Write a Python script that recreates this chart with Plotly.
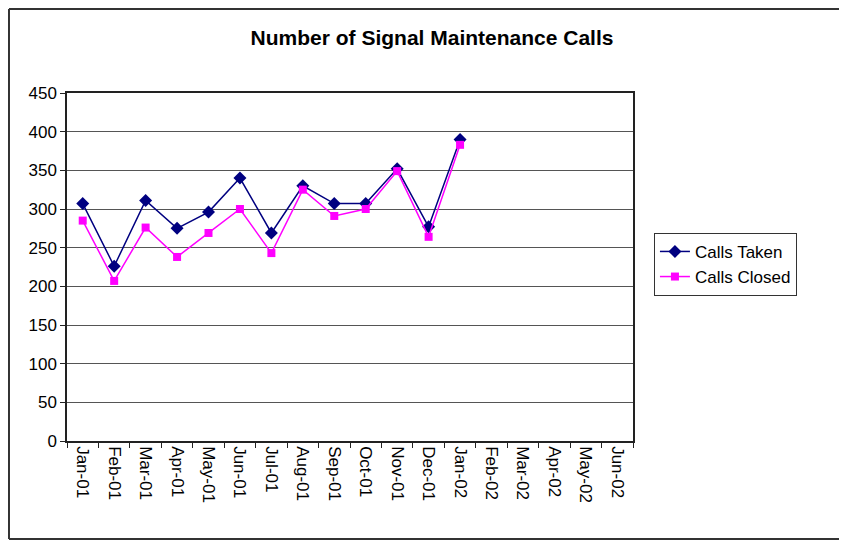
import plotly.graph_objects as go

months = ['Jan-01', 'Feb-01', 'Mar-01', 'Apr-01', 'May-01', 'Jun-01', 'Jul-01', 'Aug-01',
          'Sep-01', 'Oct-01', 'Nov-01', 'Dec-01', 'Jan-02', 'Feb-02', 'Mar-02', 'Apr-02',
          'May-02', 'Jun-02']
calls_taken = [307, 226, 311, 275, 296, 340, 269, 330, 307, 307, 352, 277, 390]
calls_closed = [285, 207, 276, 238, 269, 300, 243, 325, 291, 300, 349, 264, 383]

fig = go.Figure()
fig.add_trace(go.Scatter(x=months[:len(calls_taken)], y=calls_taken, name='Calls Taken',
                         mode='lines+markers',
                         line=dict(color='#000080', width=1.5),
                         marker=dict(symbol='diamond', size=10, color='#000080')))
fig.add_trace(go.Scatter(x=months[:len(calls_closed)], y=calls_closed, name='Calls Closed',
                         mode='lines+markers',
                         line=dict(color='#FF00FF', width=1.5),
                         marker=dict(symbol='square', size=8, color='#FF00FF')))

# outer chart border: left, top and bottom only (right edge runs off the page)
border = dict(color='#333333', width=2)
bx0, bx1, by0, by1 = -0.1025, 1.7, -0.2816, 1.2414
fig.add_shape(type='line', xref='paper', yref='paper', x0=bx0, x1=bx0, y0=by0, y1=by1, line=border)
fig.add_shape(type='line', xref='paper', yref='paper', x0=bx0, x1=bx1, y0=by1, y1=by1, line=border)
fig.add_shape(type='line', xref='paper', yref='paper', x0=bx0, x1=bx1, y0=by0, y1=by0, line=border)

fig.update_layout(
    width=847, height=540,
    margin=dict(l=59, r=222, t=85, b=107),
    paper_bgcolor='white', plot_bgcolor='white',
    font=dict(family='Liberation Sans, Arial, sans-serif', size=17, color='black'),
    title=dict(text='<b>Number of Signal Maintenance Calls</b>', x=(432 - 67) / 566,
               xref='paper', xanchor='center', y=0.945, yanchor='middle',
               font=dict(size=21, color='black')),
    showlegend=True,
    legend=dict(x=1.037, y=0.598, xanchor='left', yanchor='top',
                bordercolor='#333333', borderwidth=1, bgcolor='white',
                font=dict(size=17), tracegroupgap=2),
    xaxis=dict(type='category', categoryorder='array', categoryarray=months,
               range=[-0.5, len(months) - 0.5], tickangle=90,
               showline=True, linecolor='#222222', linewidth=1.5, mirror=True,
               ticks='outside', ticklen=5, tickcolor='#222222', tickson='boundaries',
               showgrid=False, zeroline=False),
    yaxis=dict(range=[0, 450], dtick=50, showline=True, linecolor='#222222', linewidth=1.5,
               mirror=True, ticks='outside', ticklen=5, tickcolor='#222222',
               showgrid=True, gridcolor='#555555', gridwidth=1, zeroline=False),
)

fig.write_html("out.html")
